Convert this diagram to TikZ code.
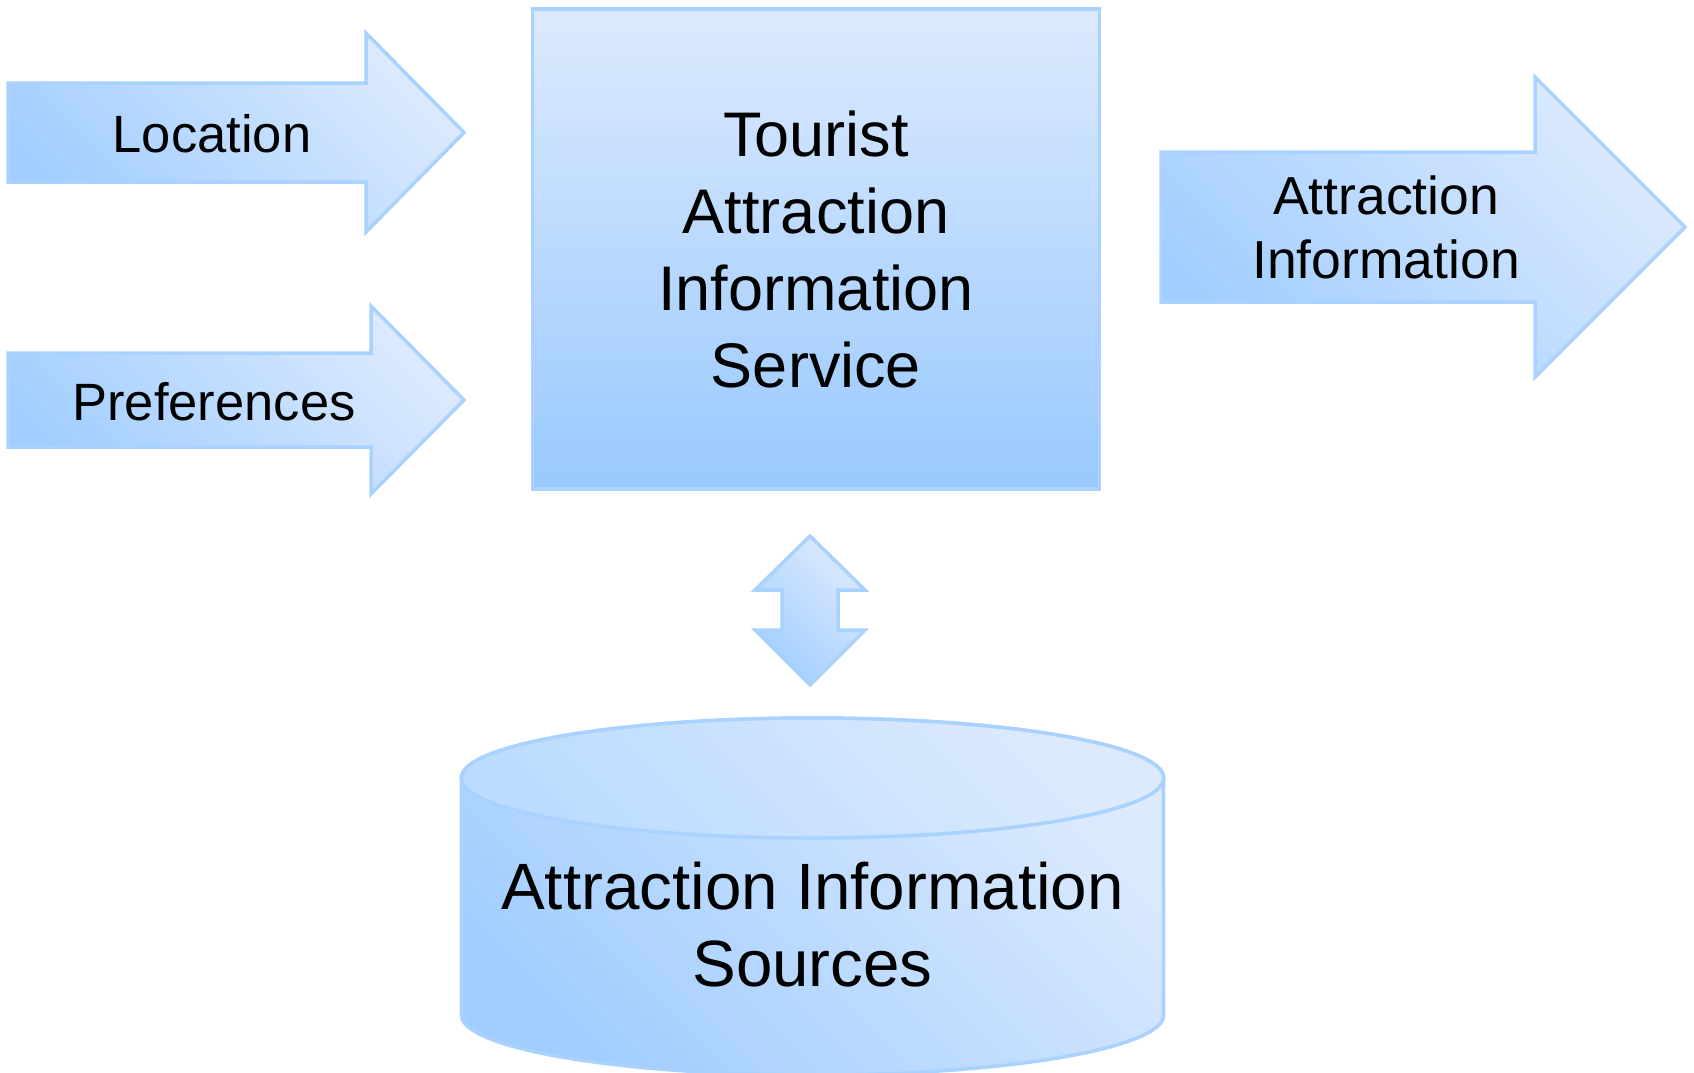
\documentclass[tikz,border=0pt]{standalone}
\usepackage{fontspec}
\setmainfont{Liberation Sans}
\definecolor{paleblue}{HTML}{DCEAFE}
\definecolor{skyblue}{HTML}{99C9FE}
\definecolor{softblue}{HTML}{A2CEFF}
\definecolor{lidblue}{HTML}{BCDCFF}
\definecolor{rimblue}{HTML}{A9D2FF}

\begin{document}
\begin{tikzpicture}[x=1pt, y=-1pt,
    blockarrow/.style={draw=rimblue, line width=3.5pt, line join=miter,
      bottom color=softblue, top color=paleblue, shading angle=-45},
    lid/.style={draw=rimblue, line width=3.5pt,
      bottom color=lidblue, top color=paleblue, shading angle=-45},
    servicebox/.style={draw=rimblue, line width=3.5pt, bottom color=skyblue,
      top color=paleblue, minimum width=567pt, minimum height=480pt,
      inner sep=0pt, align=center, font=\fontsize{63}{77}\selectfont},
    arrowtext/.style={inner sep=0pt, font=\fontsize{52.5}{63}\selectfont},
    outtext/.style={inner sep=0pt, align=center, font=\fontsize{53.5}{63.3}\selectfont},
    sourcetext/.style={inner sep=0pt, align=center, font=\fontsize{65.5}{77}\selectfont}]
  \useasboundingbox (0,0) rectangle (1694,1072);

  % Input arrows on the left
  \draw[blockarrow] (8,83) -- (366,83) -- (366,33) -- (464,132.5) -- (366,232)
    -- (366,182) -- (8,182) -- cycle;
  \node[arrowtext] (location) at (212,134) {Location};
  \draw[blockarrow] (8,353) -- (371,353) -- (371,306) -- (464,400) -- (371,494)
    -- (371,447) -- (8,447) -- cycle;
  \node[arrowtext] (preferences) at (214,402) {Preferences};

  % Service box
  \node[servicebox] (service) at (816,249) {Tourist\\Attraction\\Information\\Service};

  % Output arrow on the right
  \draw[blockarrow] (1161,152) -- (1535,152) -- (1535,77) -- (1685,227) -- (1535,377)
    -- (1535,302) -- (1161,302) -- cycle;
  \node[outtext] (attrinfo) at (1386,227.5) {Attraction\\Information};

  % Double arrow between service and sources
  \draw[blockarrow] (810,536) -- (865,590) -- (838,590) -- (838,630) -- (865,630)
    -- (810,685) -- (755,630) -- (782,630) -- (782,590) -- (755,590) -- cycle;

  % Sources cylinder
  \draw[blockarrow] (461.3,778) -- (461.3,1015)
    arc[start angle=180, end angle=0, x radius=351.2, y radius=60]
    -- (1163.7,778)
    arc[start angle=0, end angle=-180, x radius=351.2, y radius=60] -- cycle;
  \draw[lid] (812.5,778) ellipse[x radius=351.2, y radius=60];
  \node[sourcetext] (sources) at (812.5,925) {Attraction Information\\Sources};
\end{tikzpicture}
\end{document}
